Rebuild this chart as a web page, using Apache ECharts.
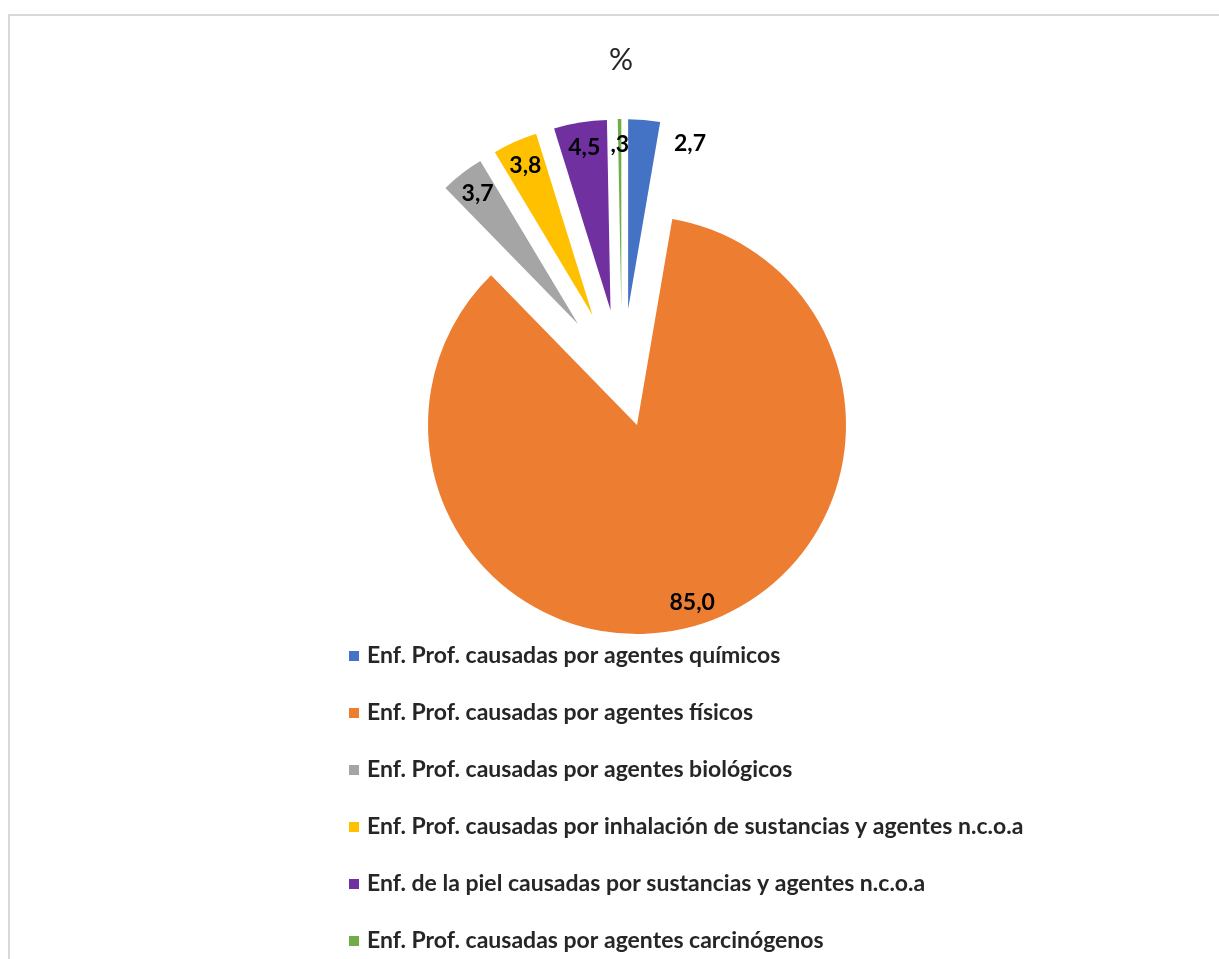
<!DOCTYPE html>
<html>
<head>
<meta charset="utf-8">
<script src="https://cdn.jsdelivr.net/npm/echarts@6/dist/echarts.min.js"></script>
<style>
html,body{margin:0;padding:0;background:#fff;}
#chart{width:1219px;height:959px;}
</style>
</head>
<body>
<div id="chart"></div>
<script>
// ---- data ----
const categories = [
  'Enf. Prof. causadas por agentes químicos',
  'Enf. Prof. causadas por agentes físicos',
  'Enf. Prof. causadas por agentes biológicos',
  'Enf. Prof. causadas por inhalación de sustancias y agentes n.c.o.a',
  'Enf. de la piel causadas por sustancias y agentes n.c.o.a',
  'Enf. Prof. causadas por agentes carcinógenos'
];
const values = [2.7, 85.0, 3.7, 3.8, 4.5, 0.3];
const colors = ['#4472C4', '#ED7D31', '#A5A5A5', '#FFC000', '#7030A0', '#70AD47'];
const exploded = [true, false, true, true, true, true];
const titleText = '%';

// ---- build ----
const FONT = 'Lato, "Open Sans", sans-serif';
const NONE = 'rgba(0,0,0,0)';
const fmt = v => v.toFixed(1).replace('.', ',').replace(/^0/, '');

const bigCenter = [637, 425], bigR = 209;
const smallCenter = [622, 381], smallR = 190, offset = 72;

function bodyData(showBig) {
  return categories.map((name, i) => {
    const visible = showBig ? !exploded[i] : exploded[i];
    return {
      name, value: values[i],
      selected: !showBig && exploded[i],
      itemStyle: { color: visible ? colors[i] : NONE, borderWidth: 0 },
      label: { show: false }, labelLine: { show: false }
    };
  });
}
function labelData(showBig) {
  return categories.map((name, i) => {
    const visible = showBig ? !exploded[i] : exploded[i];
    return {
      name, value: values[i],
      selected: !showBig && exploded[i],
      itemStyle: { color: NONE, borderWidth: 0 },
      label: { show: visible }, labelLine: { show: false }
    };
  });
}

const labelStyle = {
  position: 'inside',
  formatter: p => fmt(p.value),
  color: '#000',
  fontFamily: FONT,
  fontWeight: 'bold',
  fontSize: 23
};

const common = {
  type: 'pie', startAngle: 90, clockwise: true, silent: true,
  avoidLabelOverlap: false, minAngle: 0, animation: false,
  emphasis: { disabled: true }, legendHoverLink: false
};

const option = {
  animation: false,
  backgroundColor: '#fff',
  title: {
    text: titleText, left: 616, top: 40, textAlign: 'center',
    textStyle: { fontFamily: FONT, fontWeight: 'normal', fontSize: 30, color: '#262626' }
  },
  legend: {
    orient: 'vertical', left: 349, top: 643, padding: 0,
    height: 316,
    icon: 'rect', itemWidth: 10, itemHeight: 10, itemGap: 31,
    selectedMode: false,
    data: categories.map((name, i) => ({ name, itemStyle: { color: colors[i] } })),
    textStyle: { fontFamily: FONT, fontWeight: 'bold', fontSize: 23, color: '#262626', lineHeight: 26, padding: [0, 0, 0, 3] }
  },
  graphic: [
    { type: 'line', shape: { x1: 8, y1: 15, x2: 1219, y2: 15 }, style: { stroke: '#d9d9d9', lineWidth: 2 } },
    { type: 'line', shape: { x1: 9, y1: 15, x2: 9, y2: 959 }, style: { stroke: '#d9d9d9', lineWidth: 2 } }
  ],
  series: [
    Object.assign({}, common, {
      name: 'big', center: bigCenter, radius: [0, bigR],
      selectedMode: false, data: bodyData(true)
    }),
    Object.assign({}, common, {
      name: 'small', center: smallCenter, radius: [0, smallR],
      selectedMode: 'multiple', selectedOffset: offset, data: bodyData(false)
    }),
    Object.assign({}, common, {
      name: 'bigLabels', center: bigCenter, radius: [bigR * 0.75, bigR],
      selectedMode: false, label: labelStyle, data: labelData(true)
    }),
    Object.assign({}, common, {
      name: 'smallLabels', center: smallCenter, radius: [smallR * 0.7, smallR],
      selectedMode: 'multiple', selectedOffset: offset, label: labelStyle, data: labelData(false),
      labelLayout: function (p) {
        if (p.dataIndex === 0) return { dx: 48, dy: -2 };
        return {};
      }
    })
  ]
};

const chart = echarts.init(document.getElementById('chart'), null, { renderer: 'canvas' });
chart.setOption(option);
</script>
</body>
</html>
